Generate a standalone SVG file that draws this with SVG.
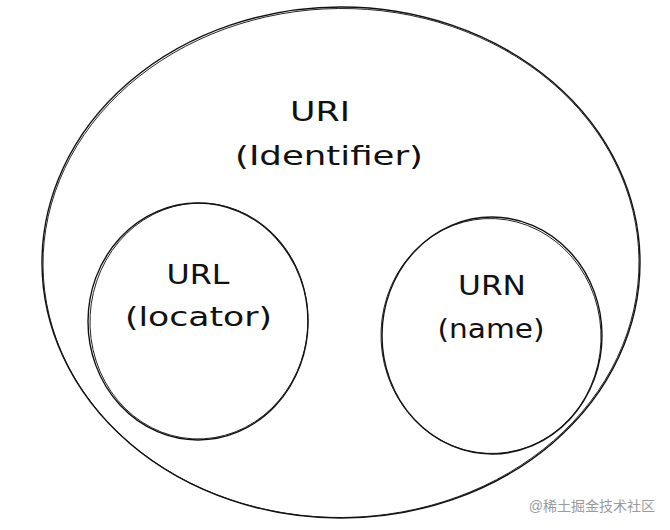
<svg xmlns="http://www.w3.org/2000/svg" width="670" height="530" viewBox="0 0 670 530">
<style>
.sk{fill:none;stroke:#111;stroke-width:1.4}
.sk2{fill:none;stroke:#111;stroke-width:0.9}
.lbl{font-family:"DejaVu Sans","Liberation Sans",sans-serif;font-size:26px;fill:#111;text-anchor:middle}
.wm{font-family:"Liberation Sans","Noto Sans CJK SC",sans-serif;font-size:14px;fill:#9a9a9a;text-anchor:end}
</style>
<rect width="670" height="530" fill="#fff"/>
<g id="uri">
<ellipse class="sk" cx="341" cy="262.5" rx="299" ry="255.5"/>
<ellipse class="sk2" cx="341" cy="263" rx="298" ry="254.5" transform="rotate(-0.6 341 263)"/>
<text class="lbl" x="320" y="121" textLength="60" lengthAdjust="spacingAndGlyphs">URI</text>
<text class="lbl" x="329" y="165" textLength="188" lengthAdjust="spacingAndGlyphs">(Identifier)</text>
</g>
<g id="url">
<ellipse class="sk" cx="198" cy="321.5" rx="110" ry="118.5"/>
<ellipse class="sk2" cx="199" cy="321" rx="109" ry="118" transform="rotate(3 199 321)"/>
<text class="lbl" x="198" y="284" textLength="63" lengthAdjust="spacingAndGlyphs">URL</text>
<text class="lbl" x="198.5" y="326" textLength="147" lengthAdjust="spacingAndGlyphs">(locator)</text>
</g>
<g id="urn">
<ellipse class="sk" cx="492" cy="335.5" rx="110" ry="118.5"/>
<ellipse class="sk2" cx="491" cy="336" rx="110" ry="117.5" transform="rotate(-3 491 336)"/>
<text class="lbl" x="492" y="295" textLength="68" lengthAdjust="spacingAndGlyphs">URN</text>
<text class="lbl" x="491" y="338" textLength="107" lengthAdjust="spacingAndGlyphs">(name)</text>
</g>
<g id="connectors"></g>
<text class="wm" x="655" y="511">@稀土掘金技术社区</text>
</svg>
